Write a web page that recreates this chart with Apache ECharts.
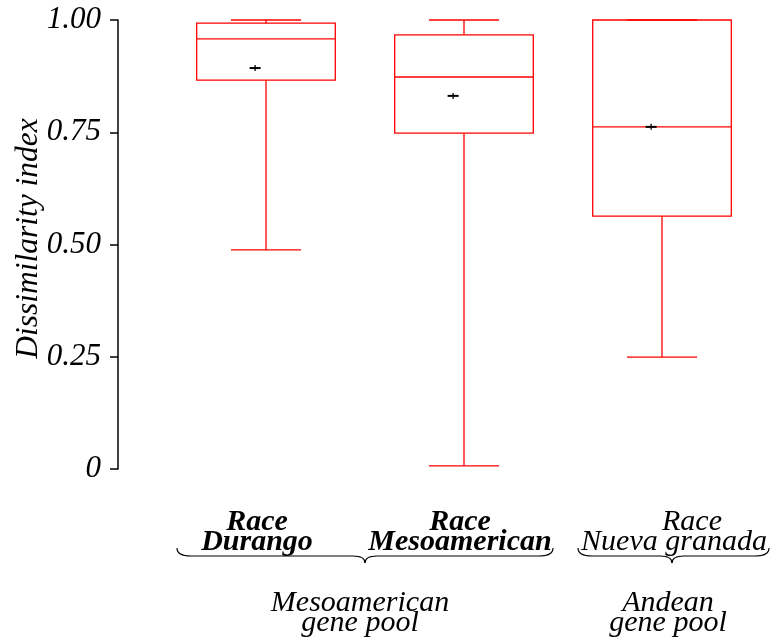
<!DOCTYPE html>
<html><head><meta charset="utf-8">
<script src="https://cdn.jsdelivr.net/npm/echarts@6/dist/echarts.min.js"></script>
<style>html,body{margin:0;padding:0;background:#fff}#c{width:774px;height:637px}</style>
</head><body><div id="c"></div>
<script>
const categories = ['Durango', 'Mesoamerican', 'Nueva granada'];
const whiskerLow = [0.488, 0.007, 0.249];
const q1 = [0.866, 0.748, 0.563];
const median = [0.958, 0.873, 0.762];
const q3 = [0.993, 0.967, 1.0];
const whiskerHigh = [1.0, 1.0, 1.0];
const means = [0.893, 0.831, 0.762];
const groupLabels = ['Mesoamerican\ngene pool', 'Andean\ngene pool'];
const yTitle = 'Dissimilarity index';

const FONT = '"Liberation Serif", "DejaVu Serif", serif';
const RED = '#ff0000';

const boxData = categories.map((c, i) => [i, whiskerLow[i], q1[i], median[i], q3[i], whiskerHigh[i], means[i]]);

function renderItem(params, api) {
  const x = api.value(0);
  const band = api.size([1, 0])[0];
  const hw = band * 0.35, cw = band * 0.177;
  const pLow = api.coord([x, api.value(1)]);
  const pQ1 = api.coord([x, api.value(2)]);
  const pMed = api.coord([x, api.value(3)]);
  const pQ3 = api.coord([x, api.value(4)]);
  const pHigh = api.coord([x, api.value(5)]);
  const pMean = api.coord([x, api.value(6)]);
  const cx = pQ1[0];
  const ls = { stroke: RED, lineWidth: 1.3, fill: null };
  const line = (x1, y1, x2, y2, st) => ({ type: 'line', shape: { x1, y1, x2, y2 }, style: st || ls });
  const ms = { stroke: '#000', lineWidth: 2 };
  const mx = pMean[0] - band * 0.055;
  return {
    type: 'group',
    children: [
      { type: 'rect', shape: { x: cx - hw, y: pQ3[1], width: 2 * hw, height: pQ1[1] - pQ3[1] }, style: { stroke: RED, lineWidth: 1.3, fill: 'none' } },
      line(cx - hw, pMed[1], cx + hw, pMed[1]),
      line(cx, pQ3[1], cx, pHigh[1]),
      line(cx, pQ1[1], cx, pLow[1]),
      line(cx - cw, pHigh[1], cx + cw, pHigh[1]),
      line(cx - cw, pLow[1], cx + cw, pLow[1]),
      line(mx - 5.5, pMean[1], mx + 5.5, pMean[1], ms),
      line(mx, pMean[1] - 3, mx, pMean[1] + 3, { stroke: '#000', lineWidth: 1.3 })
    ]
  };
}

function brace(x1, x2, m, y0) {
  const st = { stroke: '#000', lineWidth: 1.2, fill: null };
  const y1 = y0 + 8, y2 = y0 + 15;
  return [
    { type: 'bezierCurve', shape: { x1: x1, y1: y0, cpx1: x1, cpy1: y1, x2: x1 + 14, y2: y1 }, style: st },
    { type: 'line', shape: { x1: x1 + 14, y1: y1, x2: m - 12, y2: y1 }, style: st },
    { type: 'bezierCurve', shape: { x1: m - 12, y1: y1, cpx1: m, cpy1: y1, x2: m, y2: y2 }, style: st },
    { type: 'bezierCurve', shape: { x1: m, y1: y2, cpx1: m, cpy1: y1, x2: m + 12, y2: y1 }, style: st },
    { type: 'line', shape: { x1: m + 12, y1: y1, x2: x2 - 14, y2: y1 }, style: st },
    { type: 'bezierCurve', shape: { x1: x2 - 14, y1: y1, cpx1: x2, cpy1: y1, x2: x2, y2: y0 }, style: st }
  ];
}

const chart = echarts.init(document.getElementById('c'), null, { renderer: 'canvas' });
chart.setOption({
  backgroundColor: '#fff',
  animation: false,
  grid: { left: 167, right: 13, top: 20, bottom: 168, outerBoundsMode: 'none', containLabel: false },
  xAxis: {
    type: 'category',
    data: categories,
    axisLine: { show: false },
    axisTick: { show: false },
    axisLabel: {
      margin: 43,
      interval: 0,
      formatter: function (v, i) {
        if (i === 0) return '{rb0|Race}\n{nb0|' + v + '}';
        if (i === 1) return '{rb1|Race}\n{nb1|' + v + '}';
        return '{r2|Race}\n{n2|' + v + '}';
      },
      rich: {
        rb0: { fontFamily: FONT, fontStyle: 'italic', fontWeight: 'bold', fontSize: 30, lineHeight: 20, color: '#000', padding: [0, 18, 0, 0] },
        nb0: { fontFamily: FONT, fontStyle: 'italic', fontWeight: 'bold', fontSize: 30, lineHeight: 20, color: '#000', padding: [0, 18, 0, 0] },
        rb1: { fontFamily: FONT, fontStyle: 'italic', fontWeight: 'bold', fontSize: 30, lineHeight: 20, color: '#000', padding: [0, 8, 0, 0] },
        nb1: { fontFamily: FONT, fontStyle: 'italic', fontWeight: 'bold', fontSize: 30, lineHeight: 20, color: '#000', padding: [0, 8, 0, 0] },
        r2: { fontFamily: FONT, fontStyle: 'italic', fontSize: 30, lineHeight: 20, color: '#000', padding: [0, 0, 0, 60] },
        n2: { fontFamily: FONT, fontStyle: 'italic', fontSize: 30, lineHeight: 20, color: '#000', padding: [0, 0, 0, 24] }
      }
    }
  },
  yAxis: {
    type: 'value',
    min: 0, max: 1, interval: 0.25,
    offset: 49,
    name: yTitle,
    nameLocation: 'middle',
    nameGap: 73,
    nameMoveOverlap: false,
    nameTextStyle: { fontFamily: FONT, fontStyle: 'italic', fontSize: 31.5, color: '#000', padding: [0, 0, 0, 12] },
    splitLine: { show: false },
    axisLine: { show: true, lineStyle: { color: '#000', width: 1.5 } },
    axisTick: { show: true, inside: false, length: 8, lineStyle: { color: '#000', width: 1.5 } },
    axisLabel: {
      margin: 17,
      fontFamily: FONT, fontStyle: 'italic', fontSize: 31, color: '#000',
      formatter: v => v === 0 ? '0' : v.toFixed(2)
    }
  },
  series: [{
    type: 'custom',
    renderItem: renderItem,
    clip: false,
    encode: { x: 0, y: [1, 2, 3, 4, 5, 6] },
    data: boxData
  }],
  graphic: [].concat(
    brace(177, 553, 365, 548),
    brace(578, 769, 672, 548),
    [
      { type: 'text', x: 360, y: 593, style: { text: groupLabels[0], font: 'italic 30px ' + FONT, lineHeight: 20, align: 'center', verticalAlign: 'top', fill: '#000' } },
      { type: 'text', x: 668, y: 593, style: { text: groupLabels[1], font: 'italic 30px ' + FONT, lineHeight: 20, align: 'center', verticalAlign: 'top', fill: '#000' } }
    ]
  )
});
</script></body></html>
